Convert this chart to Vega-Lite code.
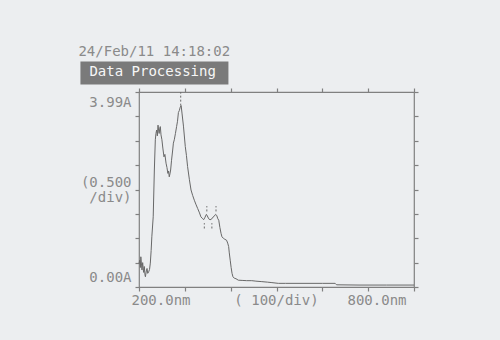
{
  "$schema": "https://vega.github.io/schema/vega-lite/v6.json",
  "width": 275,
  "height": 195,
  "autosize": {"type": "none"},
  "padding": {"left": 139, "top": 92, "right": 86, "bottom": 53},
  "background": "#eceef0",
  "config": {
    "font": "DejaVu Sans Mono",
    "view": {"stroke": "#808080", "strokeWidth": 1.2},
    "axis": {
      "domain": false, "grid": false, "tickColor": "#808080", "tickWidth": 1.2, "tickSize": 4,
      "labelColor": "#8a8a8a", "labelFont": "DejaVu Sans Mono", "labelFontSize": 14,
      "titleColor": "#8a8a8a", "titleFont": "DejaVu Sans Mono", "titleFontSize": 14, "titleFontWeight": "normal"
    }
  },
  "title": {
    "text": "Data Processing",
    "subtitle": "24/Feb/11 14:18:02",
    "anchor": "start",
    "baseline": "top",
    "font": "DejaVu Sans Mono",
    "fontSize": 14,
    "fontWeight": "normal",
    "color": "#f6f6f6",
    "subtitleFont": "DejaVu Sans Mono",
    "subtitleFontSize": 14,
    "subtitleColor": "#8a8a8a",
    "subtitlePadding": -34,
    "dx": 9,
    "dy": 4,
    "offset": -8,
    "encode": {
      "group": {"update": {"fill": {"value": "#7a7a7a"}, "width": {"value": 148}, "height": {"value": 23}}},
      "subtitle": {"update": {"dx": {"value": -2}}}
    }
  },
  "datasets": {
    "spectrum": [
      {"nm": 200, "A": 0.48}, {"nm": 201.5, "A": 0.55}, {"nm": 203, "A": 0.40}, {"nm": 204, "A": 0.62},
      {"nm": 205.5, "A": 0.45}, {"nm": 206.5, "A": 0.35}, {"nm": 208, "A": 0.50}, {"nm": 210, "A": 0.30},
      {"nm": 211.6, "A": 0.42}, {"nm": 213, "A": 0.25}, {"nm": 214, "A": 0.21}, {"nm": 216, "A": 0.33},
      {"nm": 217.5, "A": 0.38}, {"nm": 219, "A": 0.28}, {"nm": 221, "A": 0.31}, {"nm": 223, "A": 0.36},
      {"nm": 224.7, "A": 0.49}, {"nm": 226.5, "A": 0.75}, {"nm": 228, "A": 1.03}, {"nm": 231, "A": 1.44},
      {"nm": 233.5, "A": 2.40}, {"nm": 235.6, "A": 3.02}, {"nm": 237, "A": 3.15}, {"nm": 238.5, "A": 3.22},
      {"nm": 240, "A": 3.10}, {"nm": 241.5, "A": 3.32}, {"nm": 243, "A": 3.20}, {"nm": 244, "A": 3.15},
      {"nm": 245.5, "A": 3.26}, {"nm": 246.5, "A": 3.29}, {"nm": 248, "A": 3.12}, {"nm": 250, "A": 3.02},
      {"nm": 252, "A": 2.85}, {"nm": 254.5, "A": 2.67}, {"nm": 256.5, "A": 2.72}, {"nm": 259, "A": 2.54},
      {"nm": 261, "A": 2.45}, {"nm": 263, "A": 2.33}, {"nm": 264.5, "A": 2.38}, {"nm": 266, "A": 2.26},
      {"nm": 267.5, "A": 2.32}, {"nm": 269, "A": 2.40}, {"nm": 271, "A": 2.60}, {"nm": 273.5, "A": 2.81},
      {"nm": 275, "A": 2.95}, {"nm": 277, "A": 3.02}, {"nm": 279.5, "A": 3.15}, {"nm": 282, "A": 3.29},
      {"nm": 284, "A": 3.40}, {"nm": 286, "A": 3.58}, {"nm": 288, "A": 3.62}, {"nm": 290, "A": 3.69},
      {"nm": 292, "A": 3.72}, {"nm": 294, "A": 3.55}, {"nm": 297, "A": 3.30}, {"nm": 301, "A": 2.88},
      {"nm": 303.5, "A": 2.70}, {"nm": 306, "A": 2.47}, {"nm": 310, "A": 2.20}, {"nm": 313.5, "A": 1.99},
      {"nm": 317, "A": 1.88}, {"nm": 320.7, "A": 1.78}, {"nm": 324, "A": 1.70}, {"nm": 328, "A": 1.61},
      {"nm": 332, "A": 1.52}, {"nm": 335, "A": 1.44}, {"nm": 338, "A": 1.41}, {"nm": 341, "A": 1.38},
      {"nm": 344, "A": 1.43}, {"nm": 347, "A": 1.49}, {"nm": 349, "A": 1.46}, {"nm": 352, "A": 1.40},
      {"nm": 355, "A": 1.38}, {"nm": 358, "A": 1.39}, {"nm": 361, "A": 1.43}, {"nm": 364, "A": 1.45},
      {"nm": 367, "A": 1.49}, {"nm": 369.5, "A": 1.47}, {"nm": 372, "A": 1.40}, {"nm": 374, "A": 1.37},
      {"nm": 376.5, "A": 1.22}, {"nm": 379, "A": 1.10}, {"nm": 381, "A": 1.03}, {"nm": 384, "A": 1.00},
      {"nm": 387, "A": 0.98}, {"nm": 391, "A": 0.96}, {"nm": 393.5, "A": 0.90}, {"nm": 395.6, "A": 0.83},
      {"nm": 397, "A": 0.70}, {"nm": 399, "A": 0.55}, {"nm": 401, "A": 0.40}, {"nm": 403, "A": 0.28},
      {"nm": 405, "A": 0.21}, {"nm": 408, "A": 0.18}, {"nm": 411.6, "A": 0.17}, {"nm": 416.6, "A": 0.14},
      {"nm": 425, "A": 0.135}, {"nm": 435, "A": 0.13}, {"nm": 446, "A": 0.13}, {"nm": 455, "A": 0.12},
      {"nm": 468, "A": 0.11}, {"nm": 480, "A": 0.10}, {"nm": 490, "A": 0.09}, {"nm": 504, "A": 0.075},
      {"nm": 520, "A": 0.075}, {"nm": 560, "A": 0.075}, {"nm": 600, "A": 0.075}, {"nm": 628, "A": 0.075},
      {"nm": 631, "A": 0.045}, {"nm": 680, "A": 0.04}, {"nm": 740, "A": 0.04}, {"nm": 800, "A": 0.04}
    ],
    "peaks": [
      {"nm": 291, "lo": 3.72, "hi": 4.0},
      {"nm": 348, "lo": 1.55, "hi": 1.66},
      {"nm": 368, "lo": 1.55, "hi": 1.66},
      {"nm": 342.5, "lo": 1.20, "hi": 1.31},
      {"nm": 359, "lo": 1.20, "hi": 1.31}
    ]
  },
  "layer": [
    {
      "data": {"name": "spectrum"},
      "mark": {"type": "line", "color": "#686868", "strokeWidth": 1},
      "encoding": {
        "x": {
          "field": "nm", "type": "quantitative",
          "scale": {"domain": [200, 800], "nice": false, "zero": false},
          "axis": {
            "orient": "bottom",
            "values": [200, 300, 400, 500, 600, 700, 800],
            "labelExpr": "datum.value == 200 ? '200.0nm' : datum.value == 800 ? '800.0nm' : ''",
            "labelFlush": true, "labelOffset": -8, "labelPadding": 2, "labelOverlap": false, "labelBound": false,
            "title": "( 100/div)", "titleX": 137, "titleY": 13, "titleAlign": "center", "titleBaseline": "middle",
            "encoding": {
              "ticks": {"update": {"y": {"value": -4}, "y2": {"value": 4}}}
            }
          }
        },
        "y": {
          "field": "A", "type": "quantitative",
          "scale": {"domain": [0, 4], "nice": false},
          "axis": {
            "orient": "left",
            "values": [0, 0.5, 1, 1.5, 2, 2.5, 3, 3.5, 4],
            "labelExpr": "datum.value == 0 ? '0.00A' : datum.value == 4 ? '3.99A' : ''",
            "labelFlush": true, "labelFlushOffset": -3, "labelPadding": 4, "labelOverlap": false,
            "title": ["(0.500", "/div)"], "titleAngle": 0, "titleAlign": "right", "titleBaseline": "middle",
            "titleX": -8, "titleY": 90, "titleLineHeight": 15,
            "encoding": {"ticks": {"update": {"x": {"value": 4}, "x2": {"value": -4}}}}
          }
        }
      }
    },
    {
      "data": {"name": "peaks"},
      "mark": {"type": "rule", "color": "#6a6a6a", "strokeWidth": 1, "strokeDash": [2, 2]},
      "encoding": {
        "x": {
          "field": "nm", "type": "quantitative",
          "axis": {
            "orient": "top", "values": [200, 300, 400, 500, 600, 700, 800], "labels": false, "title": null,
            "encoding": {"ticks": {"update": {"y": {"value": 4}, "y2": {"value": -4}}}}
          }
        },
        "y": {
          "field": "lo", "type": "quantitative",
          "axis": {
            "orient": "right", "values": [0, 0.5, 1, 1.5, 2, 2.5, 3, 3.5, 4], "labels": false, "title": null,
            "encoding": {"ticks": {"update": {"x": {"value": -4}, "x2": {"value": 4}}}}
          }
        },
        "y2": {"field": "hi"}
      }
    }
  ],
  "resolve": {"axis": {"x": "independent", "y": "independent"}}
}
